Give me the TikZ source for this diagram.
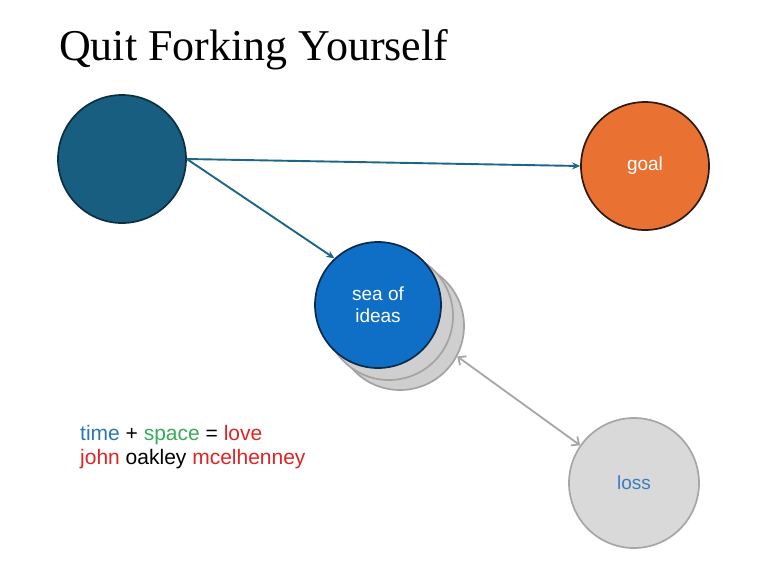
\documentclass[tikz,border=0pt]{standalone}
\usepackage{fontspec}
\setmainfont{Liberation Serif}
\newfontfamily\labelfont{Liberation Sans}
\usetikzlibrary{arrows.meta}
\definecolor{bigblue}{HTML}{175E80}
\definecolor{bigedge}{HTML}{0E2F40}
\definecolor{goalorange}{HTML}{E97132}
\definecolor{goaledge}{HTML}{2E1A10}
\definecolor{seablue}{HTML}{0F6FC6}
\definecolor{seaedge}{HTML}{0B2A4A}
\definecolor{shadowgray}{HTML}{CFCFCF}
\definecolor{shadowedge}{HTML}{A3A3A3}
\definecolor{lossgray}{HTML}{D9D9D9}
\definecolor{lossedge}{HTML}{A6A6A6}
\definecolor{losstext}{HTML}{3A7DBF}
\definecolor{arrowteal}{HTML}{1E6685}
\definecolor{arrowgray}{HTML}{A6A6A6}
\definecolor{timeblue}{HTML}{2E75B6}
\definecolor{spacegreen}{HTML}{3AAA5A}
\definecolor{lovered}{HTML}{E02424}
\tikzset{
  bubble/.style={circle, minimum size=128pt, inner sep=0pt, line width=1.7pt,
    font=\labelfont\fontsize{19}{22}\selectfont, align=center},
  tealarrow/.style={draw=arrowteal, line width=1.9pt, -{Stealth[length=8pt,width=7pt]}},
  grayarrow/.style={draw=arrowgray, line width=1.8pt,
    {Straight Barb[length=6pt,width=11pt]}-{Straight Barb[length=6pt,width=11pt]}},
  legend/.style={anchor=base west, inner sep=0pt, font=\labelfont\fontsize{21}{24}\selectfont}
}
\begin{document}
\begin{tikzpicture}[x=1pt,y=-1pt]
\useasboundingbox (0,0) rectangle (768,571);
\fill[white] (0,0) rectangle (768,571);
\node[anchor=base west, inner sep=0pt, font=\fontsize{44}{50}\selectfont] (title) at (59,60) {Quit Forking Yourself};
% shadows behind sea of ideas
\node[bubble, fill=shadowgray, draw=shadowedge] (shadowb) at (400,326) {};
\node[bubble, fill=shadowgray, draw=shadowedge] (shadowa) at (389,316) {};
\node[bubble, fill=seablue, draw=seaedge, text=white, minimum size=126pt] (sea) at (378,305) {sea of\\ideas};
\node[bubble, fill=bigblue, draw=bigedge] (start) at (122,159) {};
\node[bubble, fill=goalorange, draw=goaledge, text=white] (goal) at (645,166) {goal};
\node[bubble, fill=lossgray, draw=lossedge, text=losstext, minimum size=130pt] (loss) at (634,483) {loss};
\draw[tealarrow] (start.east) -- (goal.west);
\draw[tealarrow] (start.east) -- (sea.133);
\draw[grayarrow] (shadowb.-28) -- (loss.145);
\node[legend] (line1) at (80,440) {\textcolor{timeblue}{time} + \textcolor{spacegreen}{space} = \textcolor{lovered}{love}};
\node[legend] (line2) at (80,464) {\textcolor{lovered}{john} oakley \textcolor{lovered}{mcelhenney}};
\end{tikzpicture}
\end{document}
